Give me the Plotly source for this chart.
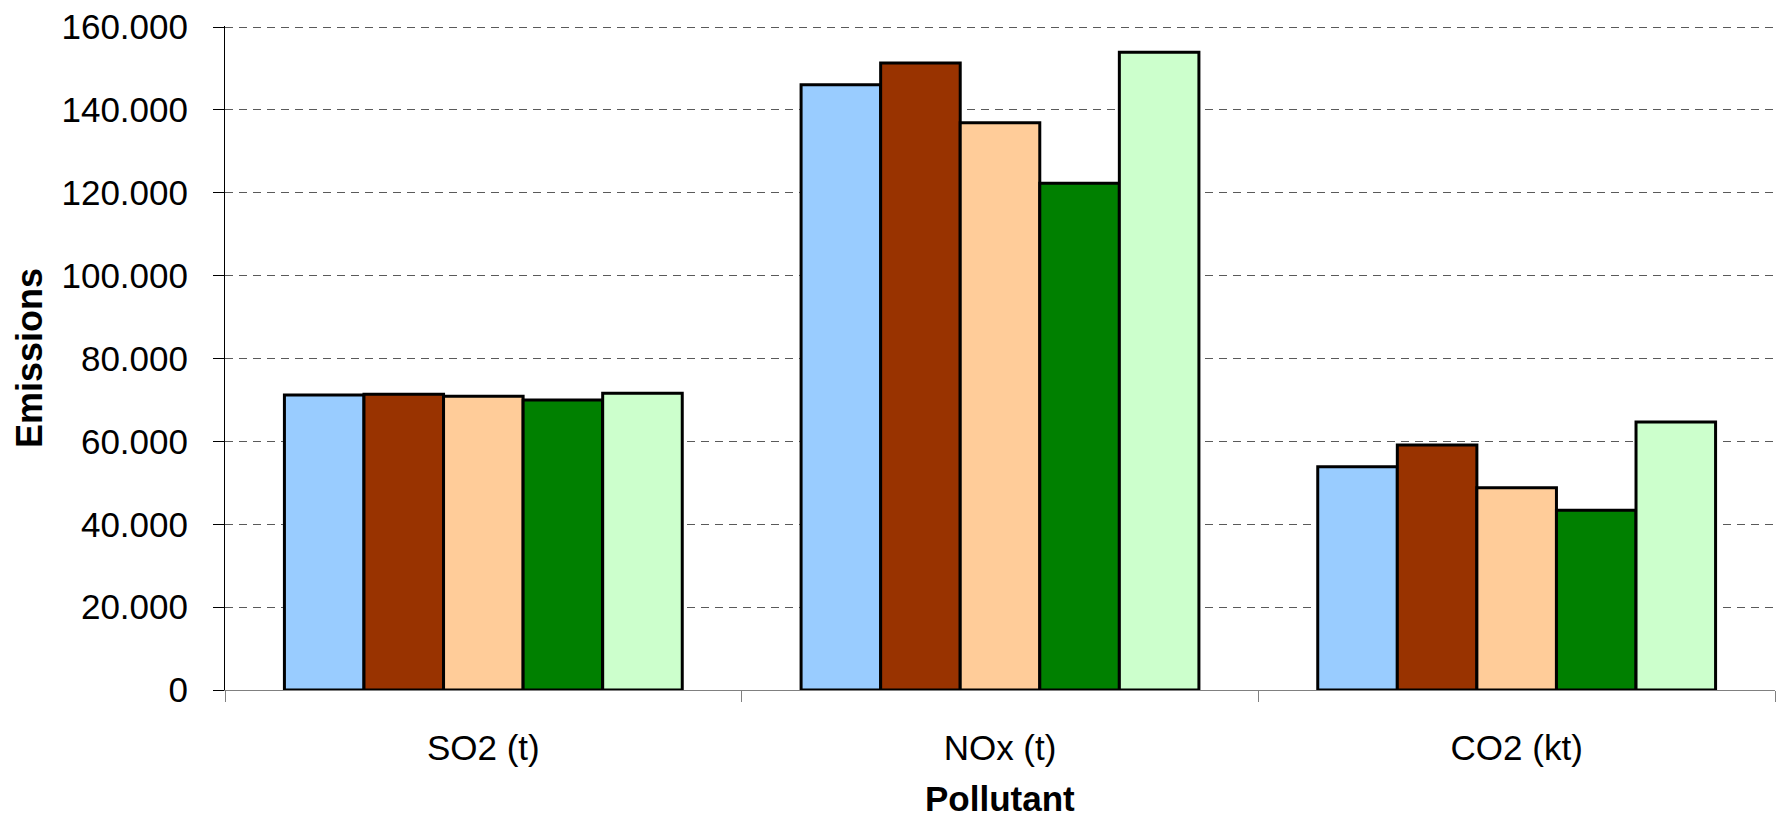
import plotly.graph_objects as go

# Pollutant categories and emission values per series
pollutants = ["SO2 (t)", "NOx (t)", "CO2 (kt)"]
series_names = ["Series 1", "Series 2", "Series 3", "Series 4", "Series 5"]
series_1 = [71200, 146100, 53900]
series_2 = [71400, 151300, 59100]
series_3 = [70900, 136900, 48800]
series_4 = [70000, 122300, 43400]
series_5 = [71600, 153900, 64700]
series_colors = ["#99CCFF", "#993300", "#FFCC99", "#008000", "#CCFFCC"]

y_ticks = [0, 20000, 40000, 60000, 80000, 100000, 120000, 140000, 160000]

W, H = 1782, 823
L, R, T, B = 225, 7, 23, 133
FONT = "Liberation Sans, Arial, sans-serif"

fig = go.Figure()
for name, vals, col in zip(series_names,
                           [series_1, series_2, series_3, series_4, series_5],
                           series_colors):
    fig.add_trace(go.Bar(
        x=pollutants, y=vals, name=name,
        marker=dict(color=col, line=dict(color="#000000", width=3)),
    ))

fig.update_layout(
    width=W, height=H,
    margin=dict(l=L, r=R, t=T, b=B, pad=0),
    paper_bgcolor="white", plot_bgcolor="white",
    barmode="group", bargap=0.23, bargroupgap=0,
    showlegend=False,
    separators=",.",
    font=dict(family=FONT, size=35, color="#000000"),
)

fig.update_xaxes(
    type="category",
    showline=True, linecolor="#808080", linewidth=1,
    ticks="outside", tickson="boundaries", ticklen=11, tickcolor="#808080", tickwidth=1,
    ticklabelstandoff=27,
    tickfont=dict(family=FONT, size=35, color="#000000"),
    showgrid=False, zeroline=False,
)

# small headroom above 160.000 so its grid line is still drawn
fig.update_yaxes(
    range=[0, 160250], tickvals=y_ticks, tickformat=",.0f",
    showline=True, linecolor="#000000", linewidth=1,
    ticks="outside", ticklen=11, tickcolor="#000000", tickwidth=1,
    ticklabelstandoff=18,
    tickfont=dict(family=FONT, size=35, color="#000000"),
    showgrid=True, gridcolor="#5a5a5a", gridwidth=1, griddash="8px,6px",
    zeroline=False,
)

plot_w = W - L - R
plot_h = H - T - B

# Axis titles
fig.add_annotation(
    text="<b>Emissions</b>", textangle=-90,
    xref="paper", yref="paper",
    x=(29 - L) / plot_w, y=0.5, xanchor="center", yanchor="middle",
    showarrow=False, font=dict(family=FONT, size=36, color="#000000"),
)
fig.add_annotation(
    text="<b>Pollutant</b>",
    xref="paper", yref="paper",
    x=0.5, y=-(799 - (H - B)) / plot_h, xanchor="center", yanchor="middle",
    showarrow=False, borderpad=0,
    font=dict(family=FONT, size=35, color="#000000"),
)

fig.write_html("out.html")
